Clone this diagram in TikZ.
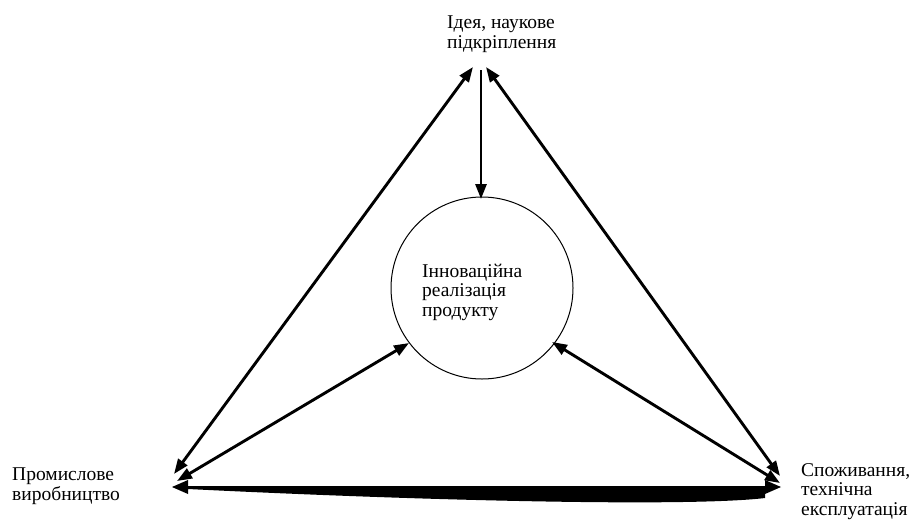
\documentclass[tikz,border=0pt]{standalone}
\usepackage{fontspec}
\setmainfont{Liberation Serif}
\usetikzlibrary{arrows.meta}
\begin{document}
\begin{tikzpicture}[x=1pt,y=-1pt,
  lbl/.style={anchor=base west,inner sep=0pt,align=left,font=\fontsize{19.5}{19.2}\selectfont},
  conn/.style={line width=2.9pt,{Triangle[length=15pt,width=11pt]}-{Triangle[length=15pt,width=11pt]}},
  oneway/.style={line width=2.9pt,-{Triangle[length=15pt,width=11pt]}}]
\useasboundingbox (0,0) rectangle (913,520);
% labels (base anchor = baseline of last line)
\node[lbl] (tl) at (447,48) {Ідея, наукове\\підкріплення};
\node[lbl] (ll) at (12,500) {Промислове\\виробництво};
\node[lbl] (rl) at (801,515) {Споживання,\\технічна\\експлуатація};
% circle
\node[draw,circle,line width=1pt,minimum size=182pt,inner sep=0pt] (c) at (482,288) {};
\node[lbl] (ct) at (422,316) {Інноваційна\\реалізація\\продукту};
% vertices
\coordinate (T1) at (473,67);
\coordinate (T2) at (486,67);
\coordinate (T3) at (481,70);
\coordinate (L1) at (174,474);
\coordinate (L2) at (177,481);
\coordinate (R1) at (780,476);
\coordinate (R2) at (780,483);
\coordinate (CL) at (409,343);
\coordinate (CR) at (552,342);
\coordinate (CT) at (481,199);
% connectors
\draw[conn] (T1) -- (L1);
\draw[conn] (T2) -- (R1);
\draw[oneway] (T3) -- (CT);
\draw[conn] (L2) -- (CL);
\draw[conn] (R2) -- (CR);
% bottom thick double arrow
\coordinate (BL) at (172,487);
\coordinate (BR) at (781,487);
\fill (BL) -- (188,480) -- (188,486) -- (765,486) -- (765,480) -- (BR) -- (765,494)
  -- (765,498) .. controls (690,507) and (430,501) .. (188,489) -- (188,494) -- cycle;
\end{tikzpicture}
\end{document}
